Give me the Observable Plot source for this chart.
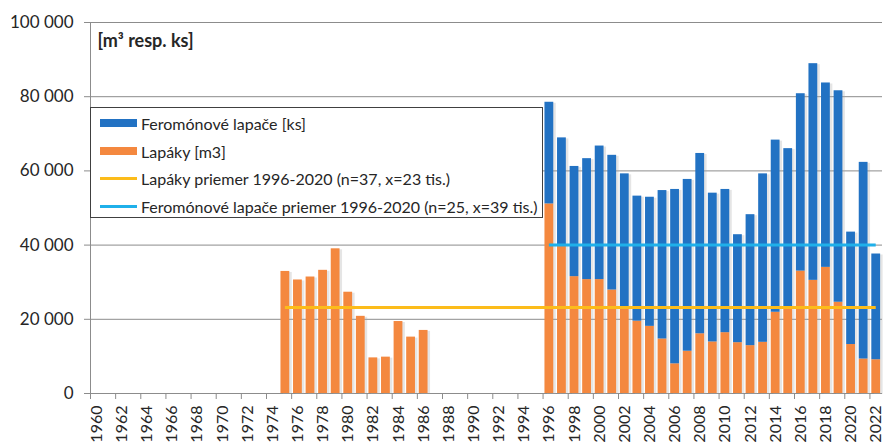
<!DOCTYPE html>
<html><head><meta charset="utf-8">
<script src="https://cdn.jsdelivr.net/npm/d3@7"></script>
<script src="https://cdn.jsdelivr.net/npm/@observablehq/plot@0.6"></script>
<style>
body{margin:0;background:#fff;font-family:Lato,"Open Sans",sans-serif;}
#wrap{position:relative;width:885px;height:444px;overflow:hidden}
#legend{position:absolute;left:90px;top:107px;width:453px;height:111px;border:1px solid #404040;background:#fff;box-sizing:border-box}
.row{position:absolute;left:0;height:20px;display:flex;align-items:center;font-size:16px;color:#262626;white-space:nowrap}
.sw{width:37px;margin-left:9px;margin-right:4px}
</style></head><body><div id="wrap"></div>
<script>
// ---- data ----
const years1 = [1975,1976,1977,1978,1979,1980,1981,1982,1983,1984,1985,1986];
const lapaky1 = [32900,30600,31400,33200,39000,27300,20800,9600,9800,19400,15200,17000];
const years2 = [1996,1997,1998,1999,2000,2001,2002,2003,2004,2005,2006,2007,2008,2009,2010,2011,2012,2013,2014,2015,2016,2017,2018,2019,2020,2021,2022];
const lapaky2 = [51100,40000,31500,30700,30700,27900,23000,19500,18100,14700,8000,11400,16100,13900,16400,13700,12900,13800,21900,23400,33000,30500,34000,24600,13200,9300,9100];
const feromon2 = [27400,28900,29700,32600,36000,36300,36200,33700,34800,40000,47000,46300,48600,40100,38600,29100,35300,45400,46400,42600,47800,58400,49700,57000,30300,53000,28500];
const avgLapaky = 23200;
const avgFeromon = 40000;
const yTicks = [0,20000,40000,60000,80000,100000];
const xLabels = [1960,1962,1964,1966,1968,1970,1972,1974,1976,1978,1980,1982,1984,1986,1988,1990,1992,1994,1996,1998,2000,2002,2004,2006,2008,2010,2012,2014,2016,2018,2020,2022];
const unitLabel = "[m³ resp. ks]";
const legendLabels = ["Feromónové lapače [ks]","Lapáky [m3]","Lapáky priemer 1996-2020 (n=37, x=23 tis.)","Feromónové lapače priemer 1996-2020 (n=25, x=39 tis.)"];
const colors = {blue:"#2272c3", orange:"#f4883f", yellow:"#fcbc1a", cyan:"#1fb0ea"};

// ---- tables ----
const orangeRows = years1.map((y,i)=>({year:y, y1:0, y2:lapaky1[i]}))
  .concat(years2.map((y,i)=>({year:y, y1:0, y2:lapaky2[i]})));
const blueRows = years2.map((y,i)=>({year:y, y1:lapaky2[i], y2:lapaky2[i]+feromon2[i]}));
const shadowRows = orangeRows.map(d=>{
  const b = blueRows.find(r=>r.year===d.year);
  return {year:d.year, y2: b ? b.y2 : d.y2};
});
const hw = 0.35;
const fmt = d => d3.format(",")(d).replace(/,/g, " ");
const boundaryTicks = xLabels.map(d=>d-0.5);

const chart = Plot.plot({
  width: 885, height: 444,
  marginLeft: 90, marginRight: 3, marginTop: 22, marginBottom: 51,
  style: {fontFamily: "Lato, 'Open Sans', sans-serif", color:"#262626", background:"#fff"},
  x: {type:"linear", domain:[1959.5, 2022.5], axis:null},
  y: {domain:[0,100000], axis:null},
  marks: [
    Plot.ruleY(yTicks, {stroke:"#8c8c8c", strokeWidth:1}),
    Plot.rectY(shadowRows, {x1:d=>d.year-hw, x2:d=>d.year+hw, y1:0, y2:"y2", fill:"#a8a8a8", fillOpacity:0.3, dx:2.5, dy:1}),
    Plot.rectY(orangeRows, {x1:d=>d.year-hw, x2:d=>d.year+hw, y1:"y1", y2:"y2", fill:colors.orange}),
    Plot.rectY(blueRows, {x1:d=>d.year-hw, x2:d=>d.year+hw, y1:"y1", y2:"y2", fill:colors.blue}),
    Plot.ruleY([avgLapaky], {x1:years1[0], x2:years2[years2.length-1], stroke:colors.yellow, strokeWidth:3}),
    Plot.ruleY([avgFeromon], {x1:years2[0], x2:years2[years2.length-1], stroke:colors.cyan, strokeWidth:3}),
    Plot.ruleX([1959.5], {y1:0, y2:100000, stroke:"#8c8c8c"}),
    Plot.axisY({ticks: yTicks, tickSize:6, tickPadding:11, tickFormat:fmt, fontSize:17, label:null, stroke:"#8c8c8c", fill:"#262626"}),
    Plot.axisX({ticks: boundaryTicks, tickSize:6, tickFormat:()=>"", label:null, stroke:"#8c8c8c"}),
    Plot.text(xLabels, {x:d=>d, y:0, text:d=>String(d), rotate:-90, textAnchor:"end", lineAnchor:"middle", dy:12, fontSize:16, fill:"#262626"}),
    Plot.text([unitLabel], {frameAnchor:"top-left", dx:7, dy:12, text:d=>d, fontWeight:"bold", fontSize:18, textAnchor:"start", lineAnchor:"top", fill:"#262626"})
  ]
});
const wrap = document.getElementById("wrap");
wrap.appendChild(chart);

// legend
const lg = document.createElement("div");
lg.id = "legend";
const tops = [5,33,60,88];
const sw = [
  `<div class="sw" style="height:8px;background:${colors.blue}"></div>`,
  `<div class="sw" style="height:8px;background:${colors.orange}"></div>`,
  `<div class="sw" style="height:3px;background:${colors.yellow}"></div>`,
  `<div class="sw" style="height:3px;background:${colors.cyan}"></div>`
];
legendLabels.forEach((t,i)=>{
  const r = document.createElement("div");
  r.className = "row";
  r.style.top = tops[i] + "px";
  r.innerHTML = sw[i] + `<span>${t}</span>`;
  lg.appendChild(r);
});
wrap.appendChild(lg);
</script>
</body></html>
